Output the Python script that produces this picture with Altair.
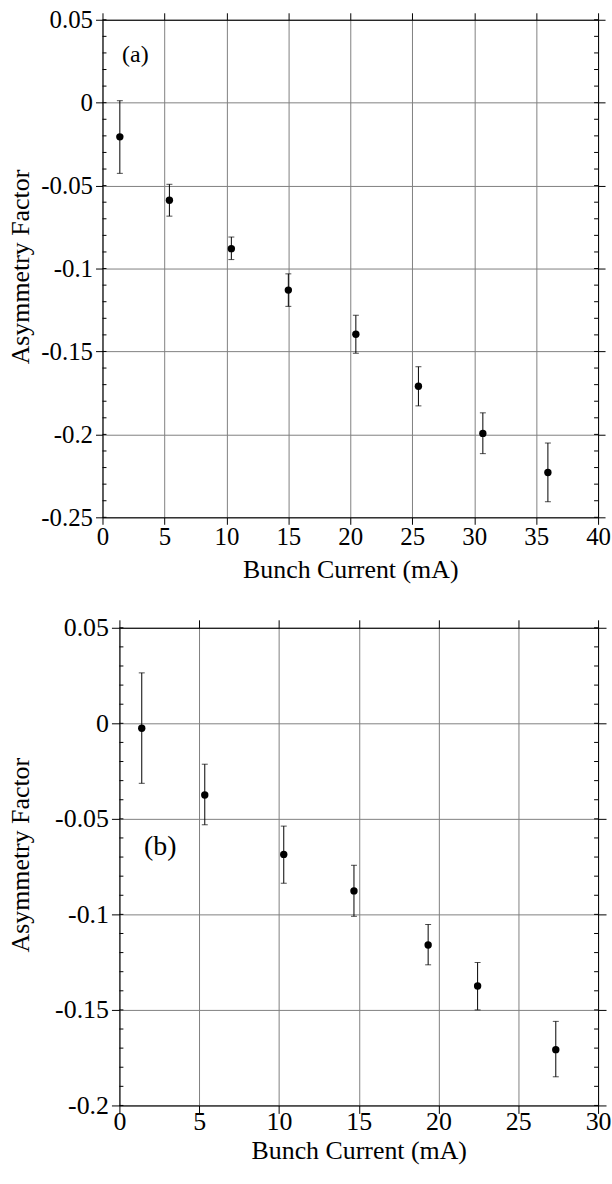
import altair as alt
import pandas as pd

# ---------------- data ----------------
# panel (a)
a_current = [1.4, 5.4, 10.4, 15.0, 20.45, 25.5, 30.7, 35.95]
a_asym = [-0.0206, -0.0588, -0.088, -0.113, -0.1396, -0.171, -0.1994, -0.223]
a_err_hi = [0.0012, -0.0492, -0.081, -0.1032, -0.1282, -0.1592, -0.187, -0.2052]
a_err_lo = [-0.0426, -0.0684, -0.0946, -0.1228, -0.151, -0.1828, -0.2116, -0.2406]

# panel (b)
b_current = [1.4, 5.35, 10.3, 14.7, 19.35, 22.45, 27.35]
b_asym = [-0.0026, -0.0375, -0.0686, -0.0877, -0.116, -0.1375, -0.1708]
b_err_hi = [0.0264, -0.0214, -0.0538, -0.0743, -0.1053, -0.1252, -0.156]
b_err_lo = [-0.0314, -0.0531, -0.0837, -0.101, -0.1264, -0.150, -0.185]

# axis ticks
a_xticks = [0, 5, 10, 15, 20, 25, 30, 35, 40]
a_yticks = [0.05, 0, -0.05, -0.1, -0.15, -0.2, -0.25]
b_xticks = [0, 5, 10, 15, 20, 25, 30]
b_yticks = [0.05, 0, -0.05, -0.1, -0.15, -0.2]

a_minor = [round(0.05 - 0.01 * i, 2) for i in range(31)]
b_minor = [round(0.05 - 0.01 * i, 2) for i in range(26)]

x_title = "Bunch Current (mA)"
y_title = "Asymmetry Factor"

FONT = "Liberation Serif"
GRID = "#808080"


def panel(cur, asym, hi, lo, xticks, yticks, minor, label, label_pos,
          W, H, tick_font, title_font, label_font, tick_len, label_pad,
          title_x, title_y, x_title_pad):
    df = pd.DataFrame({"current": cur, "asym": asym, "hi": hi, "lo": lo})
    xs = alt.Scale(domain=[xticks[0], xticks[-1]], nice=False, zero=False)
    ys = alt.Scale(domain=[yticks[-1], yticks[0]], nice=False, zero=False)
    base = alt.Chart(df)

    lab_expr = "'' + datum.value"

    points = base.mark_circle(size=55, color="black", opacity=1).encode(
        x=alt.X("current:Q", scale=xs, axis=alt.Axis(
            orient="bottom", values=xticks, title=x_title, grid=True,
            gridColor=GRID, gridWidth=1, tickColor="black", tickSize=tick_len,
            domainColor="black", labelFont=FONT, labelFontSize=tick_font,
            labelColor="black", labelPadding=label_pad, labelExpr=lab_expr,
            titleFont=FONT, titleFontSize=title_font, titleFontWeight="normal",
            titleColor="black", titlePadding=x_title_pad, labelFlush=False)),
        y=alt.Y("asym:Q", scale=ys, axis=alt.Axis(
            orient="left", values=yticks, title=y_title, grid=True,
            gridColor=GRID, gridWidth=1, tickColor="black", tickSize=tick_len,
            domainColor="black", labelFont=FONT, labelFontSize=tick_font,
            labelColor="black", labelPadding=3, labelExpr=lab_expr,
            titleFont=FONT, titleFontSize=title_font, titleFontWeight="normal",
            titleColor="black", titleX=title_x, titleY=title_y,
            titleBaseline="middle", labelFlush=False)),
    )

    bars = base.mark_rule(color="black", strokeWidth=1).encode(
        x=alt.X("current:Q", scale=xs, axis=alt.Axis(
            orient="top", values=xticks, title=None, labels=False, grid=False,
            tickColor="black", tickSize=tick_len, domainColor="black")),
        y=alt.Y("lo:Q", scale=ys, axis=alt.Axis(
            orient="right", values=yticks, title=None, labels=False, grid=False,
            tickColor="black", tickSize=tick_len, domainColor="black")),
        y2="hi:Q",
    )
    cap_lo = base.mark_tick(color="black", orient="horizontal", size=6,
                            thickness=1).encode(
        x=alt.X("current:Q", scale=xs, axis=None),
        y=alt.Y("lo:Q", scale=ys, axis=None))
    cap_hi = base.mark_tick(color="black", orient="horizontal", size=6,
                            thickness=1).encode(
        x=alt.X("current:Q", scale=xs, axis=None),
        y=alt.Y("hi:Q", scale=ys, axis=None))

    mdf = pd.DataFrame({"v": minor})
    minor_l = alt.Chart(mdf).mark_rule(color="black").encode(
        y=alt.Y("v:Q", scale=ys, axis=None),
        x=alt.value(0), x2=alt.value(4))
    minor_r = alt.Chart(mdf).mark_rule(color="black").encode(
        y=alt.Y("v:Q", scale=ys, axis=None),
        x=alt.value(W - 4), x2=alt.value(W))

    ldf = pd.DataFrame({"t": [label], "x": [label_pos[0]], "y": [label_pos[1]]})
    text = alt.Chart(ldf).mark_text(font=FONT, fontSize=label_font,
                                    color="black", align="center",
                                    baseline="middle").encode(
        x=alt.X("x:Q", scale=xs, axis=None),
        y=alt.Y("y:Q", scale=ys, axis=None),
        text="t:N")

    return alt.layer(points, bars, cap_lo, cap_hi, minor_l, minor_r, text).resolve_axis(
        x="independent", y="independent").properties(width=W, height=H)


def spacer():
    return alt.Chart(pd.DataFrame({"s": [0]})).mark_point(opacity=0).encode(
        x=alt.X("s:Q", axis=None), y=alt.Y("s:Q", axis=None)
    ).properties(width=1, height=1, view=alt.ViewBackground(stroke="transparent"))


pa = panel(a_current, a_asym, a_err_hi, a_err_lo, a_xticks, a_yticks, a_minor,
           "(a)", (2.65, 0.029), W=498, H=500, tick_font=25, title_font=26,
           label_font=24, tick_len=7, label_pad=0, title_x=-82, title_y=248,
           x_title_pad=7)
pb = panel(b_current, b_asym, b_err_hi, b_err_lo, b_xticks, b_yticks, b_minor,
           "(b)", (2.56, -0.065), W=481, H=480, tick_font=26, title_font=26,
           label_font=28, tick_len=8, label_pad=-5, title_x=-99, title_y=228,
           x_title_pad=3)

row_a = alt.hconcat(spacer(), pa, spacing=0)
row_b = alt.hconcat(spacer(), pb, spacing=0)

chart = alt.vconcat(row_a, row_b, spacing=31).properties(
    padding={"left": 0, "top": 4, "right": 0, "bottom": 0}
).configure_view(stroke="black", strokeWidth=1).configure_axis(
    labelFont=FONT, titleFont=FONT
).configure(background="white")

chart.save("out.html", embed_options={"renderer": "svg", "actions": False})
